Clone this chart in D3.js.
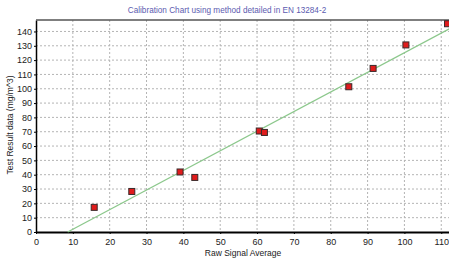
<!DOCTYPE html>
<html lang="en">
<head>
    <meta charset="UTF-8">
    <title>Calibration Chart</title>
    <script src="https://d3js.org/d3.v7.min.js"></script>
    <style>
        body { margin: 0; background: #fff; }
        text { font-family: "Liberation Sans", Arial, sans-serif; }
    </style>
</head>
<body>
    <div id="chart"></div>
    <script>
        // measured points
        const rawSignal = [15.8, 26.0, 39.1, 43.1, 60.6, 62.0, 84.9, 91.5, 100.4, 111.7];
        const testResult = [17.2, 28.3, 41.9, 38.1, 70.5, 69.5, 101.4, 114.2, 130.6, 145.4];
        // calibration line end points
        const fitX = [8.6, 112.5];
        const fitY = [0, 142.3];
        const xTicks = [0, 10, 20, 30, 40, 50, 60, 70, 80, 90, 100, 110];
        const yTicks = [0, 10, 20, 30, 40, 50, 60, 70, 80, 90, 100, 110, 120, 130, 140];

        const W = 449, H = 260;
        const margin = {top: 20, right: 0, bottom: 28, left: 36},
            width = W - margin.left - margin.right,
            height = H - margin.top - margin.bottom;

        const root = d3.select('#chart')
            .append('svg')
                .attr('width', W)
                .attr('height', H);

        root.append('text')
            .attr('x', 227)
            .attr('y', 13)
            .attr('text-anchor', 'middle')
            .attr('font-size', 8.2)
            .attr('fill', '#5b5bb0')
            .text('Calibration Chart using method detailed in EN 13284-2');

        const svg = root.append('g')
            .attr('transform', `translate(${margin.left}, ${margin.top})`);

        const x = d3.scaleLinear().domain([0, 112.1]).range([0, width]);
        const y = d3.scaleLinear().domain([0, 148]).range([height, 0]);

        // grid
        svg.append('g')
            .selectAll('line')
            .data(xTicks.slice(1))
            .join('line')
                .attr('x1', d => x(d)).attr('x2', d => x(d))
                .attr('y1', 0).attr('y2', height)
                .attr('stroke', '#b4b4b4')
                .attr('stroke-dasharray', '2,2');
        svg.append('g')
            .selectAll('line')
            .data(yTicks.slice(1))
            .join('line')
                .attr('x1', 0).attr('x2', width)
                .attr('y1', d => y(d)).attr('y2', d => y(d))
                .attr('stroke', '#b4b4b4')
                .attr('stroke-dasharray', '2,2');

        // axes
        const xAxis = svg.append('g')
            .attr('transform', `translate(0, ${height})`)
            .call(d3.axisBottom(x).tickValues(xTicks).tickSize(2).tickSizeOuter(0));
        xAxis.select('.domain').attr('stroke', '#000').attr('stroke-width', 2);
        xAxis.selectAll('text').attr('font-size', 9).attr('fill', '#222').attr('dy', '0.9em');

        const yAxis = svg.append('g')
            .call(d3.axisLeft(y).tickValues(yTicks).tickSize(2).tickSizeOuter(0));
        yAxis.select('.domain').attr('stroke', '#000').attr('stroke-width', 1.5);
        yAxis.selectAll('text').attr('font-size', 9).attr('fill', '#222').attr('dx', '0.1em');
        yAxis.attr('font-family', null);
        xAxis.attr('font-family', null);

        // top border
        svg.append('line')
            .attr('x1', 0).attr('x2', width)
            .attr('y1', 0).attr('y2', 0)
            .attr('stroke', '#555')
            .attr('stroke-width', 1.5);

        // calibration line
        const fit = fitX.map((d, i) => [d, fitY[i]]);
        svg.append('path')
            .datum(fit)
            .attr('d', d3.line().x(d => x(d[0])).y(d => y(d[1])))
            .attr('fill', 'none')
            .attr('stroke', '#8cc88c')
            .attr('stroke-width', 1.3);

        // points
        const pts = rawSignal.map((d, i) => ({x: d, y: testResult[i]}));
        svg.selectAll('rect.pt')
            .data(pts)
            .join('rect')
                .attr('class', 'pt')
                .attr('x', d => x(d.x) - 3)
                .attr('y', d => y(d.y) - 3)
                .attr('width', 6)
                .attr('height', 6)
                .attr('fill', '#e01c1c')
                .attr('stroke', '#3a2a2a')
                .attr('stroke-width', 1);

        // axis titles
        root.append('text')
            .attr('x', 243)
            .attr('y', 256)
            .attr('text-anchor', 'middle')
            .attr('font-size', 8.5)
            .attr('fill', '#222')
            .text('Raw Signal Average');

        root.append('text')
            .attr('transform', 'translate(13, 125) rotate(-90)')
            .attr('text-anchor', 'middle')
            .attr('font-size', 8.5)
            .attr('fill', '#222')
            .text('Test Result data (mg/m^3)');
    </script>
</body>
</html>
